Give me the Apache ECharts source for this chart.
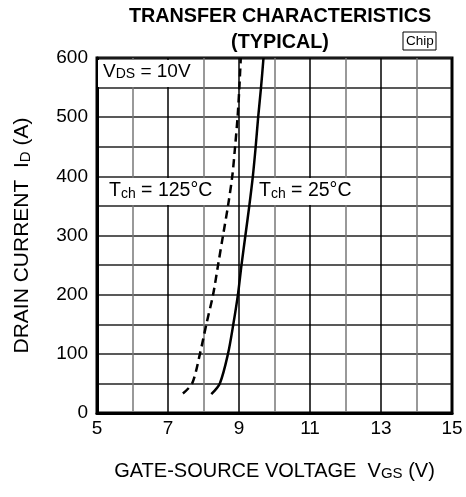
<!DOCTYPE html>
<html>
<head>
<meta charset="utf-8">
<script src="https://cdn.jsdelivr.net/npm/echarts@6/dist/echarts.min.js"></script>
<style>
  html, body { margin: 0; padding: 0; background: #fff; }
  #main { width: 466px; height: 497px; }
</style>
</head>
<body>
<div id="main"></div>
<script>
// 讀圖估計的數據 (VGS, ID)
const vgs25 = [8.22, 8.46, 8.69, 8.84, 8.97, 9.07, 9.18, 9.29, 9.39, 9.47, 9.54, 9.62, 9.69];
const id25 = [32, 50, 100, 150, 200, 250, 300, 350, 400, 450, 500, 550, 600];
const vgs125 = [7.42, 7.68, 7.90, 8.08, 8.27, 8.41, 8.55, 8.69, 8.81, 8.89, 8.96, 9.01, 9.05];
const id125 = [33, 50, 100, 150, 200, 250, 300, 350, 400, 450, 500, 550, 600];
const xTicks = [5, 7, 9, 11, 13, 15];
const yTicks = [0, 100, 200, 300, 400, 500, 600];

const FONT = '"Liberation Sans", Arial, sans-serif';

const pairs = (xs, ys) => xs.map((x, i) => [x, ys[i]]);

const chart = echarts.init(document.getElementById('main'));

const sub = { fontSize: 14, fontFamily: FONT, color: '#000', verticalAlign: 'bottom' };
const big = { fontSize: 19, fontFamily: FONT, color: '#000', verticalAlign: 'bottom' };

const option = {
    backgroundColor: '#fff',
    animation: false,
    title: {
        text: 'TRANSFER CHARACTERISTICS\n(TYPICAL)',
        left: 275,
        top: -1,
        textAlign: 'center',
        textStyle: { fontFamily: FONT, fontWeight: 'bold', fontSize: 19.8, lineHeight: 26, color: '#000' }
    },
    grid: {
        left: 97, right: 14, top: 58, bottom: 84,
        show: true, borderColor: '#000', borderWidth: 3, backgroundColor: 'transparent'
    },
    xAxis: {
        type: 'value', min: 5, max: 15, interval: 1,
        axisLine: { show: true, onZero: false, lineStyle: { color: '#000', width: 3 } },
        axisTick: { show: false },
        axisLabel: {
            margin: 6, fontSize: 19, fontFamily: FONT, color: '#000',
            formatter: v => xTicks.includes(v) ? String(v) : ''
        },
        splitLine: { show: true, lineStyle: { color: ['#000', '#777'], width: 1.5 } },
        name: '{a|GATE-SOURCE VOLTAGE  V}{s|GS}{a| (V)}',
        nameLocation: 'middle',
        nameGap: 48,
        nameTextStyle: { rich: { a: { ...big, fontSize: 20 }, s: { ...sub, fontSize: 15 } } }
    },
    yAxis: {
        type: 'value', min: 0, max: 600, interval: 50,
        axisLine: { show: true, onZero: false, lineStyle: { color: '#000', width: 3 } },
        axisTick: { show: false },
        axisLabel: {
            margin: 9, fontSize: 19, fontFamily: FONT, color: '#000',
            formatter: v => yTicks.includes(v) ? String(v) : ''
        },
        splitLine: { show: true, lineStyle: { color: '#222', width: 1.5 } },
        name: '{a|DRAIN CURRENT  I}{s|D}{a| (A)}',
        nameLocation: 'middle',
        nameGap: 64,
        nameRotate: 90,
        nameTextStyle: { rich: { a: { ...big, fontSize: 21 }, s: { ...sub, fontSize: 15 } } }
    },
    series: [
        {
            name: '25', type: 'line', data: pairs(vgs25, id25),
            smooth: 0.3, showSymbol: false, clip: true,
            lineStyle: { color: '#000', width: 2.5 }
        },
        {
            name: '125', type: 'line', data: pairs(vgs125, id125),
            smooth: 0.3, showSymbol: false, clip: true,
            lineStyle: { color: '#000', width: 2.5, type: [8, 5] }
        }
    ],
    graphic: [
        {
            type: 'rect', z: 50,
            shape: { x: 98, y: 60, width: 102, height: 27 },
            style: { fill: '#fff' }
        },
        {
            type: 'text', z: 51, left: 103, top: 62,
            style: { text: '{a|V}{s|DS}{a| = 10V}', rich: { a: big, s: sub } }
        },
        {
            type: 'rect', z: 50,
            shape: { x: 101, y: 178, width: 120, height: 27 },
            style: { fill: '#fff' }
        },
        {
            type: 'text', z: 51, left: 109, top: 181,
            style: { text: '{a|T}{s|ch}{a| = 125°C}', rich: { a: { ...big, fontSize: 19.5 }, s: sub } }
        },
        {
            type: 'rect', z: 50,
            shape: { x: 255, y: 178, width: 103, height: 27 },
            style: { fill: '#fff' }
        },
        {
            type: 'text', z: 51, left: 259, top: 181,
            style: { text: '{a|T}{s|ch}{a| = 25°C}', rich: { a: { ...big, fontSize: 19.5 }, s: sub } }
        },
        {
            type: 'rect', z: 50,
            shape: { x: 403, y: 32, width: 33, height: 18 },
            style: { fill: '#fff', stroke: '#000', lineWidth: 1 }
        },
        {
            type: 'text', z: 51, left: 406, top: 34,
            style: { text: 'Chip', fontSize: 13.5, fontFamily: FONT, fill: '#000' }
        }
    ]
};

option && chart.setOption(option);
</script>
</body>
</html>
